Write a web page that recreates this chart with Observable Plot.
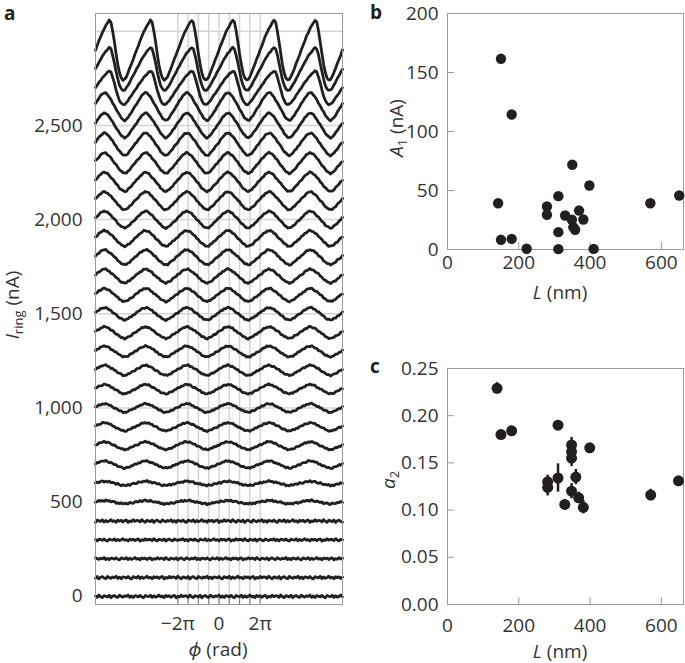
<!DOCTYPE html>
<html><head><meta charset="utf-8">
<script src="https://cdn.jsdelivr.net/npm/d3@7"></script>
<script src="https://cdn.jsdelivr.net/npm/@observablehq/plot@0.6"></script>
<style>
body{margin:0;background:#fff;}
#root{position:relative;width:685px;height:663px;overflow:hidden;background:#fff;}
.panel{position:absolute;}
</style></head><body><div id="root"></div>
<script>
// ---------- Panel a data ----------
const traceOffsets = [0,100,200,300,400,500,600,700,800,900,1000,1100,1200,1300,1400,1500,1600,1700,1800,1900,2000,2100,2200,2300,2400,2500,2600,2700,2800,2900];
const traceAmplitudes = [0,0,0,0,0,9,11,19,21,22,23,25,27,29,31,33,35,37,40,42,45,48,51,55,60,66,74,90,115,160];
const traceShapeKind = ["low","low","low","low","low","low","low","low","low","low","low","low","low","low","low","low","low","low","low","low","low","low","low","low","low","low","low","sharp","sharp","sharp"];
const traceNoiseLevels = [8,8,7,7,8,5,5,4,4,4,4,4,4,4,4,4,4,4,4,4,3.5,3.5,3.5,3.5,3.5,3,3,2.5,2.5,2.5];
// one period of the waveform, 24 samples starting at phi = 0
const shapeLow = [0.2,0.4,0.6,0.78,0.92,1.0,0.97,0.85,0.68,0.48,0.27,0.05,-0.17,-0.4,-0.62,-0.8,-0.93,-1.0,-0.93,-0.78,-0.6,-0.4,-0.2,0.0];
const shapeSharp = [0.0,0.15,0.3,0.45,0.58,0.7,0.8,0.9,0.99,0.92,0.64,0.27,-0.12,-0.48,-0.76,-0.92,-1.0,-0.97,-0.88,-0.75,-0.6,-0.45,-0.3,-0.15];
const noise = [0.3,-0.6,0.9,-0.2,-0.8,0.5,0.1,-0.4,0.7,-0.9,0.2,0.6,-0.3,-0.7,0.8,0.0,-0.5,0.4,-0.1,0.9,-0.6,0.3,-0.8,0.5,0.2,-0.3,0.7,-0.4,-0.9,0.6,0.1,-0.2,0.8,-0.7,0.4,-0.5,0.0,0.9,-0.3,0.2,-0.8,0.6,-0.1,0.5,-0.6,0.3,0.7,-0.9,0.1,-0.4,0.8,-0.2,0.4];
const periodsEachSide = 3;
const PI = Math.PI;
const phiTicks = [-2*PI,-1.5*PI,-PI,-0.5*PI,0,0.5*PI,PI,1.5*PI,2*PI];
const phiTickLabels = ["\u22122\u03c0","","","","0","","","","2\u03c0"];
const iTicks = [0,500,1000,1500,2000,2500];
const iGrid = [0,500,1000,1500,2000,2500,3000];

// ---------- Panel b data ----------
const bL  = [150,180,142,150,180,222,279,279,311,311,311,330,350,349,353,358,369,381,398,410,569,650];
const bA1 = [161.6,114.4,39.2,8.2,9,0.6,36.4,29.4,45.2,14.7,0.3,28.8,71.8,25.2,18.9,16.7,33,25.4,54.2,0.5,39.2,45.8];
const bLTicks = [0,200,400,600];
const bATicks = [0,50,100,150,200];

// ---------- Panel c data ----------
const cL   = [139,150,180,310,348,348,348,399,281,281,310,360,348,329,368,381,570,648];
const cA2  = [0.229,0.180,0.184,0.190,0.169,0.162,0.155,0.166,0.130,0.124,0.134,0.135,0.120,0.106,0.113,0.103,0.116,0.131];
const cErr = [0.006,0.003,0.003,0.004,0.008,0.006,0.009,0.004,0.007,0.009,0.015,0.008,0.008,0.005,0.006,0.007,0.006,0.004];
const cLTicks = [0,200,400,600];
const cATicks = [0,0.05,0.10,0.15,0.20,0.25];

// ---------- styling ----------
const FONT = "'Open Sans', 'Noto Sans', sans-serif";
const FS = 19;
const INK = "#231f20";
const TXT = "#333";
const GRID = "#d4d4d4";
const FRAME = "#9a9a9a";

const root = document.getElementById("root");
function place(node, left, top) {
  const d = document.createElement("div");
  d.className = "panel";
  d.style.left = left + "px"; d.style.top = top + "px";
  d.appendChild(node); root.appendChild(d);
}
function addText(svg, x, y, parts, opts = {}) {
  const t = d3.select(svg).append("text")
    .attr("transform", opts.rotate ? `translate(${x},${y}) rotate(-90)` : `translate(${x},${y})`)
    .attr("text-anchor", opts.anchor || "middle")
    .attr("font-family", FONT)
    .attr("font-size", opts.size || FS)
    .attr("font-weight", opts.weight || 400)
    .attr("fill", opts.fill || TXT);
  for (const p of parts) {
    const s = t.append("tspan").text(p.t);
    if (p.italic) s.attr("font-style", "italic");
    if (p.sub) s.attr("font-size", 13).attr("dy", 4);
    if (p.after) s.attr("dy", -4);
  }
  return t;
}
const axisText = {fontSize: FS, fill: TXT};

// ---------- build traces ----------
const stepsPerPeriod = shapeLow.length;
const rows = [];
traceOffsets.forEach((off, i) => {
  const shape = traceShapeKind[i] === "sharp" ? shapeSharp : shapeLow;
  const n = 2 * periodsEachSide * stepsPerPeriod;
  for (let j = 0; j <= n; j++) {
    const phi = -periodsEachSide * 2 * PI + j * 2 * PI / stepsPerPeriod;
    const k = j % stepsPerPeriod;
    rows.push({trace: i, phi, I: off + traceAmplitudes[i] * shape[k] + traceNoiseLevels[i] * noise[(j + 7 * i) % noise.length]});
  }
});

const phiLabel = new Map(phiTicks.map((v, i) => [v.toFixed(4), phiTickLabels[i]]));

const A = Plot.plot({
  width: 350, height: 663,
  marginLeft: 95, marginRight: 8, marginTop: 13, marginBottom: 59,
  x: {domain: [-periodsEachSide * 2 * PI, periodsEachSide * 2 * PI]},
  y: {domain: [-43, 3094]},
  style: {fontFamily: FONT, fontSize: FS + "px", color: TXT, background: "white", overflow: "visible"},
  marks: [
    Plot.ruleY(iGrid, {stroke: GRID, strokeWidth: 1.5}),
    Plot.ruleX(phiTicks, {stroke: GRID, strokeWidth: 1.5}),
    Plot.tickX(phiTicks, {stroke: "#777", strokeWidth: 1, insetTop: 585}),
    Plot.lineY(rows, {x: "phi", y: "I", z: "trace", stroke: INK, strokeWidth: 2.8, strokeLinejoin: "round"}),
    Plot.frame({stroke: FRAME}),
    Plot.axisX({ticks: phiTicks, tickFormat: d => phiLabel.get(d.toFixed(4)), tickSize: 0, tickPadding: 12, label: null, ...axisText}),
    Plot.axisY({ticks: iTicks, tickFormat: d3.format(","), tickSize: 0, tickPadding: 13, label: null, ...axisText})
  ]
});
addText(A, 4, 20, [{t: "a"}], {anchor: "start", size: 19, weight: 700, fill: INK});
addText(A, 19, 305, [{t: "I", italic: true}, {t: "ring", sub: true}, {t: " (nA)", after: true}], {rotate: true});
addText(A, 218, 656, [{t: "\u03d5", italic: true}, {t: " (rad)"}]);
place(A, 0, 0);

// ---------- Panel b ----------
const bData = bL.map((L, i) => ({L, A1: bA1[i]}));
const B = Plot.plot({
  width: 345, height: 320,
  marginLeft: 107, marginRight: 2, marginTop: 13, marginBottom: 71,
  x: {domain: [0, 662]},
  y: {domain: [0, 200]},
  style: {fontFamily: FONT, fontSize: FS + "px", color: TXT, background: "transparent", overflow: "visible"},
  marks: [
    Plot.frame({stroke: FRAME}),
    Plot.tickX(bLTicks.slice(1), {stroke: FRAME, insetTop: 229}),
    Plot.tickY(bATicks.slice(1, -1), {stroke: FRAME, insetRight: 229}),
    Plot.dot(bData, {x: "L", y: "A1", r: 5.2, fill: INK}),
    Plot.axisX({ticks: bLTicks, tickSize: 0, tickPadding: 6, label: null, ...axisText}),
    Plot.axisY({ticks: bATicks, tickSize: 0, tickPadding: 9, label: null, ...axisText})
  ]
});
addText(B, 30, 19, [{t: "b"}], {anchor: "start", size: 19, weight: 700, fill: INK});
addText(B, 63, 128, [{t: "A", italic: true}, {t: "1", sub: true}, {t: " (nA)", after: true}], {rotate: true});
addText(B, 220, 299, [{t: "L", italic: true}, {t: " (nm)"}]);
place(B, 340, 0);

// ---------- Panel c ----------
const cData = cL.map((L, i) => ({L, a2: cA2[i], err: cErr[i]}));
const C = Plot.plot({
  width: 345, height: 343,
  marginLeft: 107, marginRight: 2, marginTop: 48, marginBottom: 59,
  x: {domain: [0, 662]},
  y: {domain: [0, 0.25]},
  style: {fontFamily: FONT, fontSize: FS + "px", color: TXT, background: "transparent", overflow: "visible"},
  marks: [
    Plot.frame({stroke: FRAME}),
    Plot.tickX(cLTicks.slice(1), {stroke: FRAME, insetTop: 229}),
    Plot.tickY(cATicks.slice(1, -1), {stroke: FRAME, insetRight: 229}),
    Plot.ruleX(cData, {x: "L", y1: d => d.a2 - d.err, y2: d => d.a2 + d.err, stroke: INK, strokeWidth: 2.5}),
    Plot.dot(cData, {x: "L", y: "a2", r: 5.5, fill: INK}),
    Plot.axisX({ticks: cLTicks, tickSize: 0, tickPadding: 14, label: null, ...axisText}),
    Plot.axisY({ticks: cATicks, tickFormat: d3.format(".2f"), tickSize: 0, tickPadding: 9, label: null, ...axisText})
  ]
});
addText(C, 30, 53, [{t: "c"}], {anchor: "start", size: 19, weight: 700, fill: INK});
addText(C, 55, 160, [{t: "a", italic: true}, {t: "2", sub: true}], {rotate: true});
addText(C, 220, 338, [{t: "L", italic: true}, {t: " (nm)"}]);
place(C, 340, 320);
</script></body></html>
